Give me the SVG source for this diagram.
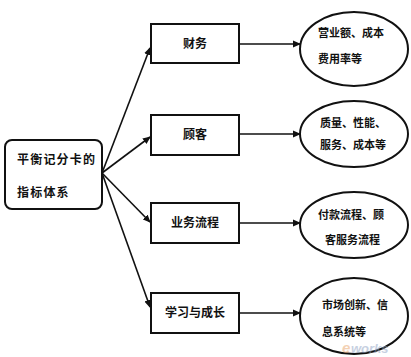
<svg xmlns="http://www.w3.org/2000/svg" width="411" height="357" viewBox="0 0 411 357">
<style>
.box{fill:#fff;stroke:#111;stroke-width:2}
.ell{fill:#fff;stroke:#111;stroke-width:2}
.t{font-family:"Noto Sans CJK SC","Noto Sans CJK JP",sans-serif;font-weight:bold;fill:#111}
.b{font-size:12px;text-anchor:middle}
.e{font-size:11px}
.c{stroke:#111;stroke-width:1.6;fill:none;marker-end:url(#ah)}
</style>
<defs>
<marker id="ah" markerWidth="8" markerHeight="8" refX="7" refY="4" orient="auto" markerUnits="userSpaceOnUse">
<path d="M0,0.5 L8,4 L0,7.5 Z" fill="#111"/>
</marker>
</defs>
<rect width="411" height="357" fill="#fff"/>
<g id="connectors">
<line class="c" x1="102" y1="173" x2="150" y2="48"/>
<line class="c" x1="102" y1="173" x2="150" y2="137"/>
<line class="c" x1="102" y1="173" x2="150" y2="222"/>
<line class="c" x1="102" y1="173" x2="150" y2="307"/>
<line class="c" x1="239" y1="44" x2="300" y2="44"/>
<line class="c" x1="239" y1="134" x2="300" y2="134"/>
<line class="c" x1="239" y1="223" x2="300" y2="223"/>
<line class="c" x1="239" y1="313" x2="300" y2="313"/>
</g>
<g id="root">
<rect class="box" x="5" y="140" width="97" height="69" rx="7"/>
<text class="t" x="17" y="164" font-size="12" letter-spacing="1.2">平衡记分卡的</text>
<text class="t" x="17" y="197" font-size="12" letter-spacing="1.2">指标体系</text>
</g>
<g id="n1"><rect class="box" x="151" y="24" width="88" height="39"/><text class="t b" x="195" y="48">财务</text></g>
<g id="n2"><rect class="box" x="151" y="115" width="88" height="40"/><text class="t b" x="195" y="139">顾客</text></g>
<g id="n3"><rect class="box" x="151" y="203" width="88" height="40"/><text class="t b" x="195" y="227">业务流程</text></g>
<g id="n4"><rect class="box" x="151" y="293" width="88" height="40"/><text class="t b" x="195" y="317">学习与成长</text></g>
<g id="e1"><ellipse class="ell" cx="354" cy="49" rx="54" ry="37"/>
<text class="t e" x="318" y="37">营业额、成本</text><text class="t e" x="318" y="63">费用率等</text></g>
<g id="e2"><ellipse class="ell" cx="354" cy="134" rx="54" ry="33"/>
<text class="t e" x="320" y="127">质量、性能、</text><text class="t e" x="320" y="149">服务、成本等</text></g>
<g id="e3"><ellipse class="ell" cx="354" cy="225" rx="54" ry="33"/>
<text class="t e" x="318" y="219">付款流程、顾</text><text class="t e" x="325" y="244">客服务流程</text></g>
<g id="e4"><ellipse class="ell" cx="354" cy="316" rx="54" ry="38"/>
<text class="t e" x="322" y="309">市场创新、信</text><text class="t e" x="322" y="336">息系统等</text></g>
<g id="watermark" opacity="0.5">
<text x="342" y="353" font-family="Liberation Sans,sans-serif" font-size="15" font-weight="bold" font-style="italic" fill="#e9a46a">e</text>
<text x="351" y="353" font-family="Liberation Sans,sans-serif" font-size="13" font-weight="bold" font-style="italic" fill="#8fa3c4">works</text>
</g>
</svg>
